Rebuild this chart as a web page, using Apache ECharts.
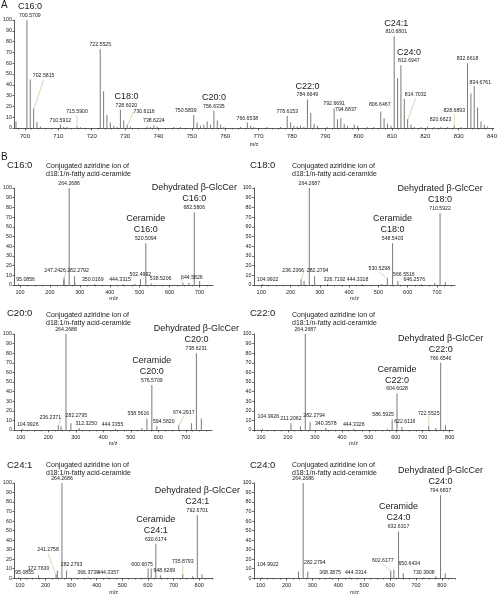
<!DOCTYPE html>
<html><head><meta charset="utf-8">
<script src="https://cdn.jsdelivr.net/npm/echarts@6/dist/echarts.min.js"></script>
<style>html,body{margin:0;padding:0;background:#fff}#c{width:500px;height:596px}</style>
</head><body><div id="c"></div>
<script>
// ---------------- DATA ----------------
// Panel A : MS spectrum, labelled peaks [m/z, relative intensity]
const aLabeled = [[700.5709,100],[702.5815,18],[710.5912,3],[715.5900,1.5],[722.5525,73],[728.6020,17],[730.6116,3],[738.6224,2.5],[750.5839,12],[756.6335,16],[766.6538,5],[778.6153,11],[784.6649,26.5],[792.6691,18],[794.6837,9],[806.6467,15],[810.6801,85],[812.6947,58],[814.7032,8],[820.6623,1.5],[828.6893,2],[832.6618,60],[834.6761,39]];
// Panel A : unlabelled peaks
const aOther = [[697.3,6],[701.57,45],[703.58,5.5],[704.6,1.5],[711.6,1],[712.6,1],[716.6,0.8],[723.56,34],[724.56,12],[725.57,5],[726.58,2],[727.6,1],[729.6,7],[731.62,1.5],[736.6,1.5],[737.6,1],[739.6,1.5],[744.6,1],[746.6,1],[751.59,5],[752.6,2],[753.6,3],[754.6,6],[755.6,3],[757.64,7],[758.64,3],[759.6,1],[764.6,1],[767.66,2],[768.6,1],[772.6,1],[776.6,1],[779.62,5],[780.6,2],[781.6,1.5],[782.6,2],[783.6,1],[785.67,14],[786.67,4],[787.7,2],[790.6,1],[793.67,8],[795.69,4],[796.7,2],[798.7,3],[799.7,2],[802.6,1],[804.6,1],[807.65,9],[808.66,4],[809.7,2],[811.68,46],[813.7,27],[815.7,3],[816.7,1],[818.7,1],[822.7,1],[824.7,1],[826.7,1],[830.7,1],[833.67,32],[835.68,19],[836.69,6],[837.7,3],[838.7,1.5]];
const aSpecies = [['C16:0',700.5709],['C18:0',728.6020],['C20:0',756.6335],['C22:0',784.6649],['C24:1',810.6801],['C24:0',812.6947]];
const aTicks = [700,710,720,730,740,750,760,770,780,790,800,810,820,830,840];
const yTicks = [0,10,20,30,40,50,60,70,80,90,100];

// Panel B : MS/MS spectra
const bTitles = ['C16:0','C18:0','C20:0','C22:0','C24:1','C24:0'];
const b16L = [[95.0856,1],[247.2426,8],[264.2686,100],[282.2792,9],[350.0169,1],[444.3315,1],[502.4992,6],[520.5094,43],[538.5206,1.5],[644.5826,2],[682.5806,75]];
const b16O = [[246.26,5],[283.28,2],[484.5,1],[664.6,2],[700.59,4]];
const b18L = [[104.9922,1],[236.2366,6],[264.2687,100],[282.2794,9],[326.7192,1],[444.3318,1],[530.5298,7],[548.5403,43],[566.5516,4],[646.2576,1],[710.5922,74]];
const b18O = [[246.26,4],[512.5,1],[692.6,2],[728.6,3]];
const b20L = [[104.9926,1],[236.2371,5],[264.2688,100],[282.2795,7],[312.3250,2],[444.3355,1],[558.5616,12],[576.5709,47],[594.5820,4],[674.2917,5],[738.6231,80]];
const b20O = [[246.26,4],[540.5,2],[720.6,7],[756.6,12]];
const b22L = [[104.9926,1],[211.2062,7],[264.2687,100],[282.2794,8],[340.3578,2],[444.3326,1],[586.5925,11],[604.6028,38],[622.6116,3],[722.5525,4],[766.6546,70]];
const b22O = [[246.26,4],[568.6,1],[748.6,2],[784.66,5]];
const b241L = [[95.0855,1],[172.7630,3],[241.2758,4],[264.2686,100],[282.2793,8],[366.3739,1],[444.3357,1],[600.6075,10],[630.6174,36],[648.6269,3],[735.8793,4],[792.6701,66]];
const b241O = [[246.26,8],[612.6,10],[774.7,2],[810.7,4]];
const b240L = [[104.9922,1],[264.2686,100],[282.2794,7],[368.3875,1],[444.3314,1],[602.6177,8],[632.6317,49],[650.6434,5],[730.3908,1],[794.6837,87]];
const b240O = [[246.26,7],[614.6,9],[776.7,2],[812.7,5]];
const bCeramide = [520.5094,548.5403,576.5709,604.6028,630.6174,632.6317];
const bDehydrated = [682.5806,710.5922,738.6231,766.6546,792.6701,794.6837];
const bTicks = [100,200,300,400,500,600,700,800];

// ---------------- STYLE / LAYOUT ----------------
const FONT = '"Liberation Sans", Arial, Helvetica, sans-serif';
const PEAK = '#7a7a7a', AXIS = '#333', TXT = '#1a1a1a', LEAD = '#aed492';
const SMALL = 5.2;
// label nudges [dx, dy, leaderLine]
const aNudge = {'700.5709':[3,0],'702.5815':[10,-28,1],'715.5900':[0,-10,1],'728.6020':[6,0],'730.6116':[17,-8.5,1],'750.5839':[-8,0],'794.6837':[5,-4],'806.6467':[-1,-2.5],'810.6801':[2,0],'812.6947':[8,0],'814.7032':[8,-20,1],'820.6623':[13,-2],'828.6893':[0,-10.5,1],'834.6761':[6,1]};
const bNudge = [
 {'95.0856':[7,0],'247.2426':[-9,-2,1],'282.2792':[3.5,-1],'350.0169':[-2,0],'444.3315':[-3,0],'538.5206':[9.5,0],'644.5826':[9,-1,1]},
 {'104.9922':[5,0],'236.2366':[-8,-4,1],'282.2794':[3,-1],'326.7192':[7,0],'444.3318':[-4.5,0],'530.5298':[-8,-5,1],'566.5516':[6,-2.5],'646.2576':[-7,0]},
 {'104.9926':[5.5,0],'236.2371':[-8,-3.5,1],'282.2795':[5.5,-3],'312.3250':[7,0],'444.3355':[-3,0],'558.5616':[-8.5,0],'594.5820':[7,0],'674.2917':[5,-8,1]},
 {'104.9926':[6,-8],'282.2794':[4,-2],'586.5925':[-9,0],'622.6116':[3,-1],'722.5525':[0,-8.5,1]},
 {'95.0855':[6,0],'172.7630':[0,-2],'241.2758':[-8,-20,1],'282.2793':[5,-1],'600.6075':[-6,0],'648.6269':[4,0],'735.8793':[0,-8,1]},
 {'104.9922':[6,-8],'282.2794':[7,-4],'444.3314':[6,0],'602.6177':[-8,-5.5,1],'650.6434':[6,-5]}
];
const bLayout = [
 {left:14, top:188, width:199, height:97, min:81, max:745.2, title:[7,165], conj:[46,166]},
 {left:254, top:188, width:201, height:97, min:75.4, max:761.6, title:[250,165], conj:[292,166]},
 {left:14, top:334, width:198, height:96, min:76.4, max:795.4, title:[7,313], conj:[46,315]},
 {left:254, top:334, width:199, height:96, min:74, max:812.4, title:[250,313], conj:[292,315]},
 {left:14, top:483, width:199, height:96, min:78.4, max:853.9, title:[7,465], conj:[46,465]},
 {left:254, top:483, width:201, height:96, min:74.5, max:850.6, title:[250,465], conj:[292,465]}
];

const grids=[], xAxes=[], yAxes=[], series=[], graphics=[];
const richStyles = {
  big:{fontSize:9, lineHeight:11, fontFamily:FONT, color:TXT},
  s:{fontSize:SMALL, lineHeight:7, fontFamily:FONT, color:TXT}
};
const richStylesA = {
  big:{fontSize:9, lineHeight:10, fontFamily:FONT, color:TXT},
  s:{fontSize:SMALL, lineHeight:7, fontFamily:FONT, color:TXT}
};

function addPanel(box, min, max, major, minor, nameGap, tickFont, labelMargin) {
  const gi = grids.length;
  grids.push({left:box.left, top:box.top, width:box.width, height:box.height});
  const xi = xAxes.length;
  xAxes.push({type:'value', gridIndex:gi, position:'bottom', min:min, max:max,
    name:'m/z', nameLocation:'middle', nameGap:nameGap,
    nameTextStyle:{fontSize:5.5, fontFamily:FONT, color:TXT},
    axisLine:{onZero:false, lineStyle:{color:AXIS, width:0.8}},
    axisTick:{customValues:major, length:2.5, lineStyle:{color:AXIS, width:0.7}},
    axisLabel:{customValues:major, fontSize:tickFont, fontFamily:FONT, color:TXT, margin:labelMargin},
    splitLine:{show:false}});
  xAxes.push({type:'value', gridIndex:gi, position:'bottom', min:min, max:max,
    axisLine:{show:false}, axisTick:{customValues:minor, length:1.5, lineStyle:{color:AXIS, width:0.6}},
    axisLabel:{show:false}, splitLine:{show:false}});
  yAxes.push({type:'value', gridIndex:gi, min:0, max:100, interval:10,
    axisLine:{show:true, lineStyle:{color:AXIS, width:0.8}},
    axisTick:{show:true, length:2, lineStyle:{color:AXIS, width:0.7}},
    axisLabel:{fontSize:5.3, fontFamily:FONT, color:TXT, margin:2.5},
    splitLine:{show:false}});
  return {xi:xi, yi:gi};
}

function peakSeries(ax, labeled, other, tags, nudges, rich) {
  const items = [], nds = [];
  labeled.forEach(function (p) {
    const key = p[0].toFixed(4);
    const tag = tags[key];
    const nd = nudges[key] || [0,0,0];
    const label = {show:true, position:'top', distance:1, color:TXT, fontFamily:FONT, fontSize:SMALL, lineHeight:7,
      formatter: tag ? tag.map(function(t){return '{big|'+t+'}';}).join('\n') + '\n{s|' + key + '}' : key};
    if (tag) label.rich = rich;
    items.push({value:[p[0], p[1]], label:label,
      labelLine: nd[2] ? {show:true, lineStyle:{color:LEAD, width:0.7}} : {show:false}});
    nds.push(nd);
  });
  other.forEach(function (p) { items.push({value:[p[0], p[1]], label:{show:false}}); nds.push(null); });
  series.push({type:'bar', xAxisIndex:ax.xi, yAxisIndex:ax.yi, barWidth:1, silent:true,
    itemStyle:{color:PEAK}, data:items,
    labelLayout:function (prm) { const n = nds[prm.dataIndex]; return n ? {dx:n[0], dy:n[1]} : {}; }});
}

// Panel A
(function () {
  const minorA = [];
  for (let v = 698; v <= 840; v += 2) if (v % 10 !== 0) minorA.push(v);
  const ax = addPanel({left:14, top:20, width:483, height:108}, 696.8, 840.55, aTicks, minorA, 13, 6, 5.5);
  const tags = {};
  aSpecies.forEach(function (s) { tags[s[1].toFixed(4)] = [s[0]]; });
  peakSeries(ax, aLabeled, aOther, tags, aNudge, richStylesA);
})();

// Panel B
const bLab = [b16L,b18L,b20L,b22L,b241L,b240L];
const bOth = [b16O,b18O,b20O,b22O,b241O,b240O];
bLayout.forEach(function (L, i) {
  const major = bTicks.filter(function(v){return v>=L.min && v<=L.max;});
  const minor = [];
  for (let v = 25; v <= L.max; v += 25) if (v >= L.min && v % 100 !== 0) minor.push(v);
  const ax = addPanel(L, L.min, L.max, major, minor, 10, 5.5, 4);
  const tags = {};
  tags[bCeramide[i].toFixed(4)] = ['Ceramide', bTitles[i]];
  tags[bDehydrated[i].toFixed(4)] = ['Dehydrated \u03b2-GlcCer', bTitles[i]];
  peakSeries(ax, bLab[i], bOth[i], tags, bNudge[i], richStyles);
  graphics.push({type:'text', x:L.title[0], y:L.title[1], style:{text:bTitles[i], font:'9.5px '+FONT, fill:TXT, textAlign:'left', textVerticalAlign:'middle', verticalAlign:'middle'}});
  graphics.push({type:'text', x:L.conj[0], y:L.conj[1], style:{text:'Conjugated aziridine ion of', font:'7px '+FONT, fill:TXT, textAlign:'left', textVerticalAlign:'middle', verticalAlign:'middle'}});
  graphics.push({type:'text', x:L.conj[0], y:L.conj[1]+8, style:{text:'d18:1/n-fatty acid-ceramide', font:'7px '+FONT, fill:TXT, textAlign:'left', textVerticalAlign:'middle', verticalAlign:'middle'}});
});

graphics.push({type:'text', x:1, y:5, style:{text:'A', font:'10px '+FONT, fill:TXT, textAlign:'left', textVerticalAlign:'middle', verticalAlign:'middle'}});
graphics.push({type:'text', x:1, y:157, style:{text:'B', font:'10px '+FONT, fill:TXT, textAlign:'left', textVerticalAlign:'middle', verticalAlign:'middle'}});

const chart = echarts.init(document.getElementById('c'), null, {renderer:'canvas', width:500, height:596});
chart.setOption({animation:false, grid:grids, xAxis:xAxes, yAxis:yAxes, series:series, graphic:graphics});
</script></body></html>
